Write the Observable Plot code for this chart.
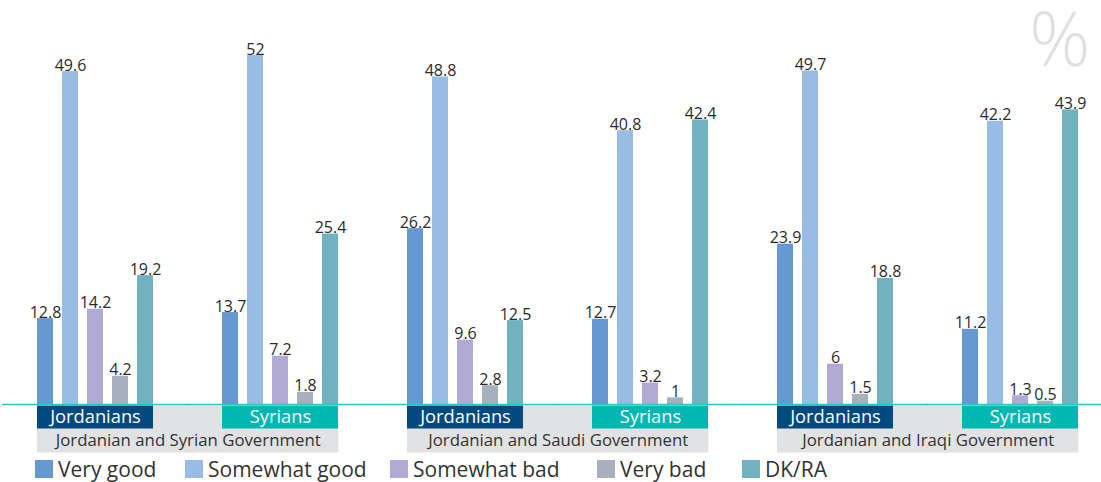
<!DOCTYPE html>
<html>
<head>
<meta charset="utf-8">
<script src="https://cdn.jsdelivr.net/npm/d3@7"></script>
<script src="https://cdn.jsdelivr.net/npm/@observablehq/plot@0.6"></script>
<style>
  html, body { margin: 0; padding: 0; background: #fff; }
  #wrap { position: relative; width: 1101px; height: 482px; font-family: "Open Sans", sans-serif; overflow: hidden; }
  #pct { position: absolute; left: 1029px; top: 0; height: 90px; font-size: 76px; font-weight: 300; color: #e0e0e0; line-height: 74px; }
  #legend { position: absolute; left: 0; top: 455px; width: 1101px; height: 28px; font-size: 21px; color: #333; }
  .item { position: absolute; top: 0; display: flex; align-items: center; height: 28px; line-height: 28px; white-space: nowrap; }
  .sw { width: 18px; height: 18px; margin-right: 5px; flex: none; }
</style>
</head>
<body>
<div id="wrap">
  <div id="chart"></div>
  <div id="pct">%</div>
  <div id="legend"></div>
</div>
<script>
const governments = ["Jordanian and Syrian Government", "Jordanian and Saudi Government", "Jordanian and Iraqi Government"];
const nationalities = ["Jordanians", "Syrians"];
const seriesNames = ["Very good", "Somewhat good", "Somewhat bad", "Very bad", "DK/RA"];
const seriesColors = ["#6699d2", "#98bce3", "#b0aad5", "#a8b0bd", "#70b2c0"];
const nationalityColors = ["#004a80", "#00b8b1"];
const legendLeft = [35, 185, 390, 597, 742];
// values in order: J-Syr gov, S-Syr gov, J-Saudi, S-Saudi, J-Iraqi, S-Iraqi
const veryGood     = [12.8, 13.7, 26.2, 12.7, 23.9, 11.2];
const somewhatGood = [49.6, 52,   48.8, 40.8, 49.7, 42.2];
const somewhatBad  = [14.2, 7.2,  9.6,  3.2,  6,    1.3];
const veryBad      = [4.2,  1.8,  2.8,  1,    1.5,  0.5];
const dkra         = [19.2, 25.4, 12.5, 42.4, 18.8, 43.9];

const seriesValues = [veryGood, somewhatGood, somewhatBad, veryBad, dkra];

const groups = [];
governments.forEach((g, gi) => nationalities.forEach((n, ni) => groups.push({key: g + "|" + n, gov: g, nat: n, ni})));
const keys = groups.map(d => d.key);

const data = [];
groups.forEach((grp, i) => seriesNames.forEach((s, si) => data.push({key: grp.key, series: s, value: seriesValues[si][i]})));

const jordanGroups = groups.filter(d => d.ni === 0);

const chart = Plot.plot({
  width: 1101,
  height: 456,
  marginLeft: 36,
  marginRight: 22,
  marginTop: 55,
  marginBottom: 52,
  style: {fontFamily: "Open Sans, sans-serif", background: "transparent", overflow: "visible"},
  fx: {domain: keys, paddingInner: 0.3743, paddingOuter: 0, axis: null, label: null},
  x: {domain: seriesNames, paddingInner: 0.36, paddingOuter: 0, axis: null, label: null},
  y: {domain: [0, 52], axis: null},
  color: {domain: seriesNames, range: seriesColors},
  marks: [
    Plot.ruleY(jordanGroups, {fx: "key", y: () => 0, stroke: "#e1e2e4", strokeWidth: 47, dy: 24.5, insetRight: -185.4}),
    Plot.ruleY(groups, {fx: "key", y: () => 0, stroke: d => nationalityColors[d.ni], strokeWidth: 23, dy: 12.5}),
    Plot.text(groups, {fx: "key", y: () => 0, text: "nat", fill: "white", fontSize: 18.3, dy: 12.5, lineAnchor: "middle"}),
    Plot.text(jordanGroups, {fx: "key", y: () => 0, text: "gov", fill: "#333", fontSize: 16.8, dy: 36, dx: 92.7, lineAnchor: "middle"}),
    Plot.barY(data, {fx: "key", x: "series", y: "value", fill: "series"}),
    Plot.text(data, {fx: "key", x: "series", y: "value", text: d => String(d.value), fill: "#2b2b2b", fontSize: 16, lineAnchor: "bottom", dy: -1}),
    Plot.ruleY([0], {stroke: "#36c0c4", strokeWidth: 1.5, insetLeft: -35, insetRight: -35})
  ]
});
document.getElementById("chart").appendChild(chart);

const legend = document.getElementById("legend");
seriesNames.forEach((s, i) => {
  const item = document.createElement("div");
  item.className = "item";
  item.style.left = legendLeft[i] + "px";
  const sw = document.createElement("div");
  sw.className = "sw";
  sw.style.background = seriesColors[i];
  const t = document.createElement("span");
  t.textContent = s;
  item.appendChild(sw);
  item.appendChild(t);
  legend.appendChild(item);
});
</script>
</body>
</html>
